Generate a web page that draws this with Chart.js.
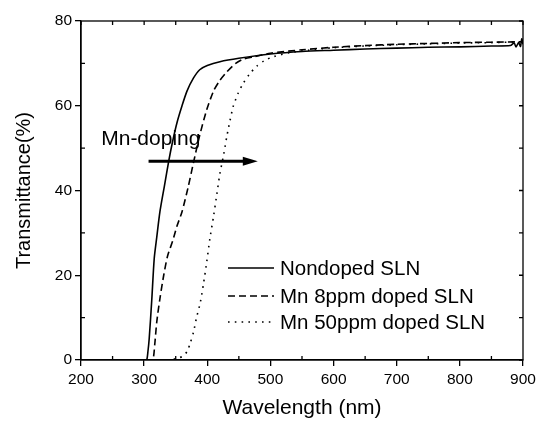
<!DOCTYPE html>
<html>
<head>
<meta charset="utf-8">
<script src="https://cdn.jsdelivr.net/npm/chart.js@4/dist/chart.umd.min.js"></script>
<style>
  html, body { margin: 0; padding: 0; background: #fff; }
</style>
</head>
<body>
<canvas id="chTrans" width="540" height="421"></canvas>
<script>
// wavelength (nm) and transmittance (%)
let wlNondoped = [250, 300, 304, 306, 308, 312, 316, 320, 325, 332, 339, 345, 352, 360, 368, 378, 388, 400, 420, 450,
    500, 550, 600, 650, 700, 750, 800, 850, 880, 886, 889, 893, 896, 898, 900];
let tNondoped = [0, 0, 0, 2, 5, 14, 24, 29, 35, 41, 47, 51.5, 56, 60, 63.5, 66.5, 68.5, 69.5, 70.4, 71.2,
    72.2, 72.8, 73.1, 73.4, 73.6, 73.8, 73.9, 74.1, 74.2, 74.8, 73.9, 74.9, 74.0, 75.8, 74.5];

let wl8ppm = [250, 310, 314, 317, 320, 325, 331, 337, 345, 352, 360, 370, 378, 388, 399, 410, 420, 431, 445, 457,
    475, 500, 550, 600, 650, 700, 750, 800, 850, 900];
let t8ppm = [0, 0, 0, 4, 9, 14.5, 20, 24.5, 28, 31.6, 35, 41, 46.5, 53, 59, 63.5, 66, 68, 70, 71,
    71.6, 72.4, 73.2, 73.8, 74.2, 74.5, 74.7, 74.9, 75.0, 75.1];

let wl50ppm = [250, 300, 340, 355, 362, 368, 373, 378, 383, 389, 394, 399, 404, 410, 415, 420, 426, 431, 436, 441,
    449, 457, 467, 478, 490, 505, 530, 560, 600, 650, 700, 750, 800, 850, 900];
let t50ppm = [0, 0, 0, 0.5, 1, 2, 4, 6.5, 10, 13.6, 18, 23, 28.5, 34, 39, 44, 48.5, 52.8, 56.5, 59.8,
    63, 65.3, 67.5, 69.3, 70.6, 71.6, 72.5, 73.1, 73.7, 74.1, 74.4, 74.6, 74.8, 74.9, 75.1];

let seriesNames = ['Nondoped SLN', 'Mn 8ppm doped SLN', 'Mn 50ppm doped SLN'];
let xTicks = [200, 300, 400, 500, 600, 700, 800, 900];
let yTicks = [0, 20, 40, 60, 80];

// arrow annotation, in data units
let arrowFrom = [307, 46.9];
let arrowTo = [480, 46.9];
let arrowLabel = 'Mn-doping';
let arrowLabelAt = [232, 52];

const FONT = "'Liberation Sans', Arial, sans-serif";
Chart.defaults.font.family = FONT;
Chart.defaults.color = '#000';

function toPoints(xs, ys) {
    let pts = [];
    for (let i = 0; i < xs.length; i++) {
        pts.push({ x: xs[i], y: ys[i] });
    }
    return pts;
}

const lineStyle = { borderColor: '#000', borderWidth: 1.6, pointRadius: 0, fill: false, tension: 0.25 };

// box frame + minor ticks (Origin style)
const frame = {
    id: 'frame',
    afterDatasetsDraw(chart) {
        const { ctx, chartArea: a, scales: { x, y } } = chart;
        ctx.save();
        ctx.strokeStyle = '#000';
        ctx.lineWidth = 1.3;
        ctx.strokeRect(a.left, a.top, a.right - a.left, a.bottom - a.top);
        ctx.beginPath();
        for (let v = 200; v <= 900; v += 50) {
            let px = x.getPixelForValue(v);
            ctx.moveTo(px, a.top); ctx.lineTo(px, a.top + 4);
            if (v % 100) { ctx.moveTo(px, a.bottom); ctx.lineTo(px, a.bottom - 4); }
        }
        for (let v = 0; v <= 80; v += 10) {
            let py = y.getPixelForValue(v);
            ctx.moveTo(a.right, py); ctx.lineTo(a.right - 4, py);
            if (v % 20) { ctx.moveTo(a.left, py); ctx.lineTo(a.left + 4, py); }
        }
        ctx.stroke();
        ctx.restore();
    }
};

// the "Mn-doping" arrow
const arrow = {
    id: 'arrow',
    afterDatasetsDraw(chart) {
        const { ctx, scales: { x, y } } = chart;
        let x0 = x.getPixelForValue(arrowFrom[0]), y0 = y.getPixelForValue(arrowFrom[1]);
        let x1 = x.getPixelForValue(arrowTo[0]), y1 = y.getPixelForValue(arrowTo[1]);
        ctx.save();
        ctx.strokeStyle = '#000';
        ctx.fillStyle = '#000';
        ctx.lineWidth = 3;
        ctx.beginPath();
        ctx.moveTo(x0, y0);
        ctx.lineTo(x1 - 12, y1);
        ctx.stroke();
        ctx.beginPath();
        ctx.moveTo(x1, y1);
        ctx.lineTo(x1 - 15, y1 - 4.5);
        ctx.lineTo(x1 - 15, y1 + 4.5);
        ctx.closePath();
        ctx.fill();
        ctx.font = '21px ' + FONT;
        ctx.textAlign = 'left';
        ctx.textBaseline = 'middle';
        ctx.fillText(arrowLabel, x.getPixelForValue(arrowLabelAt[0]), y.getPixelForValue(arrowLabelAt[1]));
        ctx.restore();
    }
};

// legend inside the plot
const innerLegend = {
    id: 'innerLegend',
    afterDatasetsDraw(chart) {
        const ctx = chart.ctx;
        const rows = [268, 296, 322];
        ctx.save();
        ctx.font = '20.5px ' + FONT;
        ctx.textBaseline = 'middle';
        ctx.fillStyle = '#000';
        chart.data.datasets.forEach((ds, i) => {
            ctx.strokeStyle = '#000';
            ctx.lineWidth = ds.borderWidth;
            ctx.setLineDash(ds.borderDash || []);
            ctx.beginPath();
            ctx.moveTo(228, rows[i]);
            ctx.lineTo(274, rows[i]);
            ctx.stroke();
            ctx.setLineDash([]);
            ctx.fillText(ds.label, 280, rows[i] + 1);
        });
        ctx.restore();
    }
};

new Chart(document.getElementById('chTrans'), {
    type: 'line',
    data: {
        datasets: [
            Object.assign({ label: seriesNames[0], data: toPoints(wlNondoped, tNondoped) }, lineStyle),
            Object.assign({ label: seriesNames[1], data: toPoints(wl8ppm, t8ppm), borderDash: [7, 4] }, lineStyle),
            Object.assign({ label: seriesNames[2], data: toPoints(wl50ppm, t50ppm), borderDash: [1.6, 5.2] }, lineStyle)
        ]
    },
    options: {
        responsive: false,
        animation: false,
        layout: { padding: { top: 21, right: 17, left: 0, bottom: 0 } },
        plugins: { legend: { display: false }, tooltip: { enabled: false } },
        scales: {
            x: {
                type: 'linear',
                min: 200, max: 900,
                afterBuildTicks: s => { s.ticks = xTicks.map(v => ({ value: v })); },
                afterFit: s => { s.height = 61; },
                ticks: { font: { size: 15.5 }, padding: 4, maxRotation: 0 },
                grid: { drawOnChartArea: false, color: '#000', lineWidth: 1.3, tickLength: 6 },
                border: { color: '#000', width: 1.3 },
                title: { display: true, text: 'Wavelength (nm)', font: { size: 21 }, padding: { top: 0, bottom: 0 } }
            },
            y: {
                min: 0, max: 80,
                afterBuildTicks: s => { s.ticks = yTicks.map(v => ({ value: v })); },
                afterFit: s => { s.width = 81; },
                ticks: { font: { size: 15.5 }, padding: 3 },
                grid: { drawOnChartArea: false, color: '#000', lineWidth: 1.3, tickLength: 6 },
                border: { color: '#000', width: 1.3 },
                title: { display: true, text: 'Transmittance(%)', font: { size: 20 }, padding: { top: 12, bottom: 0 } }
            }
        }
    },
    plugins: [frame, arrow, innerLegend]
});
</script>
</body>
</html>
